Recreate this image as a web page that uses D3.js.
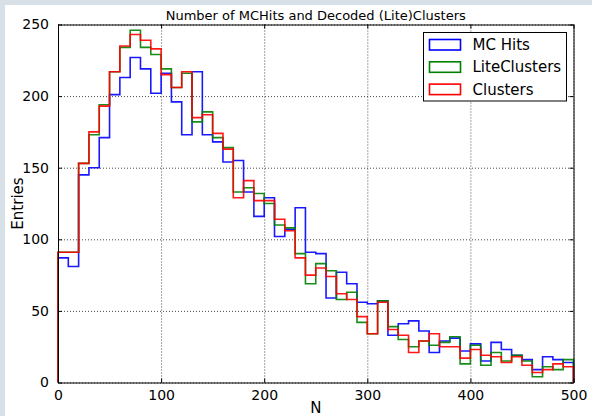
<!DOCTYPE html>
<html>
<head>
<meta charset="utf-8">
<script src="https://cdn.jsdelivr.net/npm/d3@7"></script>
<style>
  body { margin: 0; background: #d6e0e6; }
  svg { display: block; }
  text { font-family: "DejaVu Sans", sans-serif; fill: #000; }
</style>
</head>
<body>
<svg id="chart" width="592" height="416"></svg>
<script>
// Number of MCHits and Decoded (Lite)Clusters

var binWidth = 10;
var binStart = d3.range(0, 500, binWidth);

var mcHits = [87, 81, 145, 150, 171, 201, 213, 227, 219, 202,
  216, 196, 173, 217, 173, 168, 154, 155, 133, 116,
  129, 102, 107, 122, 91, 90, 59, 77, 69, 56,
  55, 57, 33, 41, 43, 36, 21, 29, 31, 22,
  27, 15, 28, 23, 19, 16, 9, 18, 16, 14];

var liteClusters = [91, 91, 153, 173, 194, 217, 234, 246, 234, 229,
  219, 206, 216, 182, 189, 171, 164, 133, 136, 132,
  125, 110, 108, 90, 69, 83, 78, 58, 63, 42,
  34, 57, 39, 30, 25, 29, 26, 28, 32, 13,
  26, 12, 21, 15, 19, 15, 4, 11, 9, 16];

var clusters = [91, 91, 153, 175, 193, 217, 235, 243, 239, 233,
  215, 206, 217, 185, 187, 174, 163, 129, 141, 127,
  127, 114, 106, 87, 75, 80, 74, 62, 58, 46,
  34, 56, 37, 33, 21, 29, 34, 25, 25, 17,
  23, 19, 18, 14, 18, 12, 7, 9, 13, 11];

var seriesNames = ["MC Hits", "LiteClusters", "Clusters"];
var seriesColors = ["#0000ff", "#008000", "#ff0000"];
var xTicks = [0, 100, 200, 300, 400, 500];
var yTicks = [0, 50, 100, 150, 200, 250];

var svg = d3.select("#chart");
var plotLeft = 58, plotRight = 573.5, plotTop = 24.5, plotBottom = 382.5;

// white page area
svg.append("rect")
  .attr("x", 5).attr("y", 5)
  .attr("width", 587).attr("height", 411)
  .attr("fill", "#fff");

var x = d3.scaleLinear().domain([0, 500]).range([plotLeft, plotRight]);
var y = d3.scaleLinear().domain([0, 250]).range([plotBottom, plotTop]);

// grid
svg.append("g")
  .attr("transform", "translate(0," + plotBottom + ")")
  .call(d3.axisBottom(x).tickValues(xTicks).tickSize(-(plotBottom - plotTop)).tickFormat(""))
  .call(function (g) {
    g.select(".domain").remove();
    g.selectAll("line")
      .attr("stroke", "#333")
      .attr("stroke-width", 0.9)
      .attr("stroke-dasharray", "1,2");
  });

svg.append("g")
  .attr("transform", "translate(" + plotLeft + ",0)")
  .call(d3.axisLeft(y).tickValues(yTicks).tickSize(-(plotRight - plotLeft)).tickFormat(""))
  .call(function (g) {
    g.select(".domain").remove();
    g.selectAll("line")
      .attr("stroke", "#333")
      .attr("stroke-width", 0.9)
      .attr("stroke-dasharray", "1,2");
  });

// histograms drawn as steps
var step = d3.line()
  .x(function (d) { return x(d[0]); })
  .y(function (d) { return y(d[1]); })
  .curve(d3.curveStepAfter);

[mcHits, liteClusters, clusters].forEach(function (values, i) {
  var last = values.length - 1;
  var pts = [[0, 0]];
  values.forEach(function (v, j) {
    pts.push([binStart[j], v]);
  });
  pts.push([binStart[last] + binWidth, values[last]]);
  pts.push([binStart[last] + binWidth, 0]);

  svg.append("path")
    .attr("d", step(pts))
    .attr("fill", "none")
    .attr("stroke", seriesColors[i])
    .attr("stroke-width", 1.6)
    .attr("stroke-opacity", 0.9);
});

// axes, ticks inside on all four sides
function styleAxis(g) {
  g.select(".domain").attr("stroke", "#000").attr("stroke-width", 1);
  g.selectAll(".tick line").attr("stroke", "#000").attr("stroke-width", 1);
  g.selectAll("text").attr("font-size", "14px").attr("font-family", "DejaVu Sans");
}

svg.append("g")
  .attr("transform", "translate(0," + plotBottom + ")")
  .call(d3.axisBottom(x).tickValues(xTicks).tickSizeInner(-4).tickSizeOuter(0).tickPadding(8))
  .call(styleAxis);

svg.append("g")
  .attr("transform", "translate(0," + plotTop + ")")
  .call(d3.axisTop(x).tickValues(xTicks).tickSizeInner(-4).tickSizeOuter(0).tickFormat(""))
  .call(styleAxis);

svg.append("g")
  .attr("transform", "translate(" + plotLeft + ",0)")
  .call(d3.axisLeft(y).tickValues(yTicks).tickSizeInner(-4).tickSizeOuter(0).tickPadding(9))
  .call(styleAxis);

svg.append("g")
  .attr("transform", "translate(" + plotRight + ",0)")
  .call(d3.axisRight(y).tickValues(yTicks).tickSizeInner(-4).tickSizeOuter(0).tickFormat(""))
  .call(styleAxis);

// title and labels
svg.append("text")
  .attr("x", (plotLeft + plotRight) / 2)
  .attr("y", 20)
  .attr("text-anchor", "middle")
  .attr("font-size", "13px")
  .text("Number of MCHits and Decoded (Lite)Clusters");

svg.append("text")
  .attr("x", (plotLeft + plotRight) / 2)
  .attr("y", 413)
  .attr("text-anchor", "middle")
  .attr("font-size", "15px")
  .text("N");

svg.append("text")
  .attr("transform", "translate(23," + (plotTop + plotBottom) / 2 + ") rotate(-90)")
  .attr("text-anchor", "middle")
  .attr("font-size", "15px")
  .text("Entries");

// legend
var legend = svg.append("g").attr("transform", "translate(423.5,32.5)");

legend.append("rect")
  .attr("width", 143)
  .attr("height", 68.5)
  .attr("fill", "#fff")
  .attr("stroke", "#000")
  .attr("stroke-width", 1);

var rows = legend.selectAll(".row")
  .data(seriesNames)
  .enter()
  .append("g")
  .attr("class", "row")
  .attr("transform", function (d, i) {
    return "translate(0," + (12.2 + i * 22.3) + ")";
  });

rows.append("rect")
  .attr("x", 6)
  .attr("y", -5.2)
  .attr("width", 31)
  .attr("height", 10.5)
  .attr("fill", "none")
  .attr("stroke", function (d, i) { return seriesColors[i]; })
  .attr("stroke-width", 1.6);

rows.append("text")
  .attr("x", 49)
  .attr("dy", "0.36em")
  .attr("font-size", "15px")
  .text(function (d) { return d; });
</script>
</body>
</html>
